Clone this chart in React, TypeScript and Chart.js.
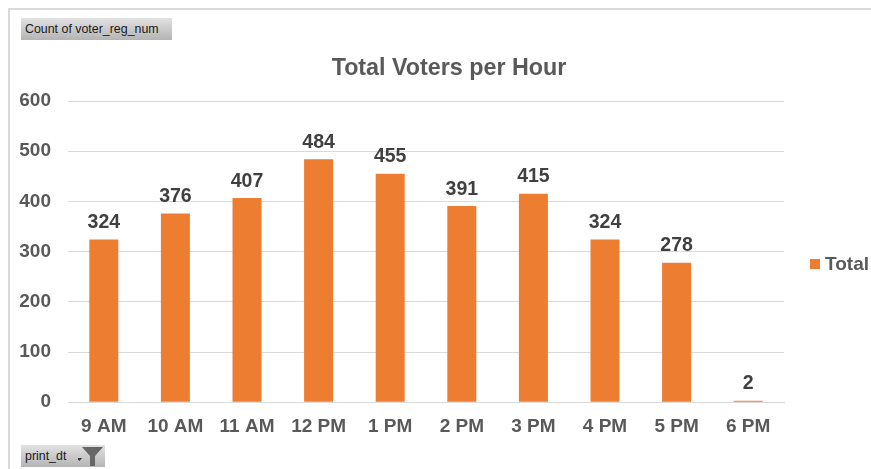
import React, { useEffect, useRef } from "react";
import { Chart, registerables } from "chart.js";

Chart.register(...registerables);

const hours = ["9 AM", "10 AM", "11 AM", "12 PM", "1 PM", "2 PM", "3 PM", "4 PM", "5 PM", "6 PM"];
const voters = [324, 376, 407, 484, 455, 391, 415, 324, 278, 2];
const FONT = "'Liberation Sans', Arial, sans-serif";

const valueLabels = {
  id: "valueLabels",
  afterDatasetsDraw(chart: any) {
    const { ctx } = chart;
    const meta = chart.getDatasetMeta(0);
    ctx.save();
    ctx.font = `bold 19.5px ${FONT}`;
    ctx.fillStyle = "#404040";
    ctx.textAlign = "center";
    ctx.textBaseline = "bottom";
    meta.data.forEach((bar: any, i: number) => {
      ctx.fillText(String(voters[i]), bar.x, bar.y - 7);
    });
    // legend
    const ds = chart.data.datasets[0];
    ctx.fillStyle = ds.backgroundColor;
    ctx.fillRect(810, 259, 10, 10);
    ctx.font = `bold 19px ${FONT}`;
    ctx.fillStyle = "#595959";
    ctx.textAlign = "left";
    ctx.textBaseline = "middle";
    ctx.fillText(ds.label, 825, 264.5);
    ctx.restore();
  },
};

const btn: React.CSSProperties = {
  position: "absolute",
  background: "linear-gradient(#e2e2e2, #b4b4b4)",
  fontFamily: "'Liberation Sans', Arial, sans-serif",
  fontSize: 12.4,
  color: "#1a1a1a",
  boxSizing: "border-box",
  lineHeight: "22px",
  paddingLeft: 4,
};

export default function App() {
  const ref = useRef<HTMLCanvasElement>(null);
  useEffect(() => {
    document.body.style.margin = "0";
    const chart = new Chart(ref.current!, {
      type: "bar",
      data: {
        labels: hours,
        datasets: [{ label: "Total", data: voters, backgroundColor: "#ED7D31", barPercentage: 0.405, categoryPercentage: 1, minBarLength: 1.5 }],
      },
      plugins: [valueLabels],
      options: {
        animation: false,
        responsive: false,
        layout: { padding: { top: 101, left: 15, right: 87, bottom: 26 } },
        plugins: {
          legend: { display: false },
          tooltip: { enabled: false },
        },
        scales: {
          x: {
            z: -1,
            grid: { display: false },
            border: { color: "#D9D9D9", width: 1 },
            ticks: { color: "#595959", padding: 5, maxRotation: 0, z: 1, font: { family: FONT, size: 19, weight: "bold" } },
          },
          y: {
            min: 0,
            max: 600,
            grid: { color: "#D9D9D9", drawTicks: false },
            border: { display: false },
            ticks: { stepSize: 100, color: "#595959", padding: 17, font: { family: FONT, size: 19, weight: "bold" } },
            afterFit: (s: any) => { s.width = 53; },
          },
        },
      },
    });
    return () => chart.destroy();
  }, []);
  return (
    <div style={{ position: "relative", width: 871, height: 469, overflow: "hidden", background: "#fff" }}>
      <canvas ref={ref} width={871} height={469} style={{ display: "block" }} />
      <div style={{ position: "absolute", left: 8, top: 8, right: 0, bottom: 0, borderLeft: "2px solid #d9d9d9", borderTop: "2px solid #d9d9d9" }} />
      <div style={{ position: "absolute", left: 0, top: 52, textAlign: "center", fontFamily: FONT, fontSize: 23.3, fontWeight: "bold", color: "#595959", lineHeight: "30px", width: 898 }}>
        Total Voters per Hour
      </div>
      <div style={{ ...btn, left: 21, top: 18, width: 151, height: 22 }}>Count of voter_reg_num</div>
      <div style={{ ...btn, left: 21, top: 445, width: 84, height: 22 }}>print_dt</div>
      <svg style={{ position: "absolute", left: 78, top: 445 }} width={28} height={22}>
        <path d="M4 13 h5 l-2.5 3 z" fill="#333" transform="translate(-5,0)" />
        <path d="M4 2 H25 L17 11 V21 H12 V11 Z" fill="#666" />
      </svg>
    </div>
  );
}
